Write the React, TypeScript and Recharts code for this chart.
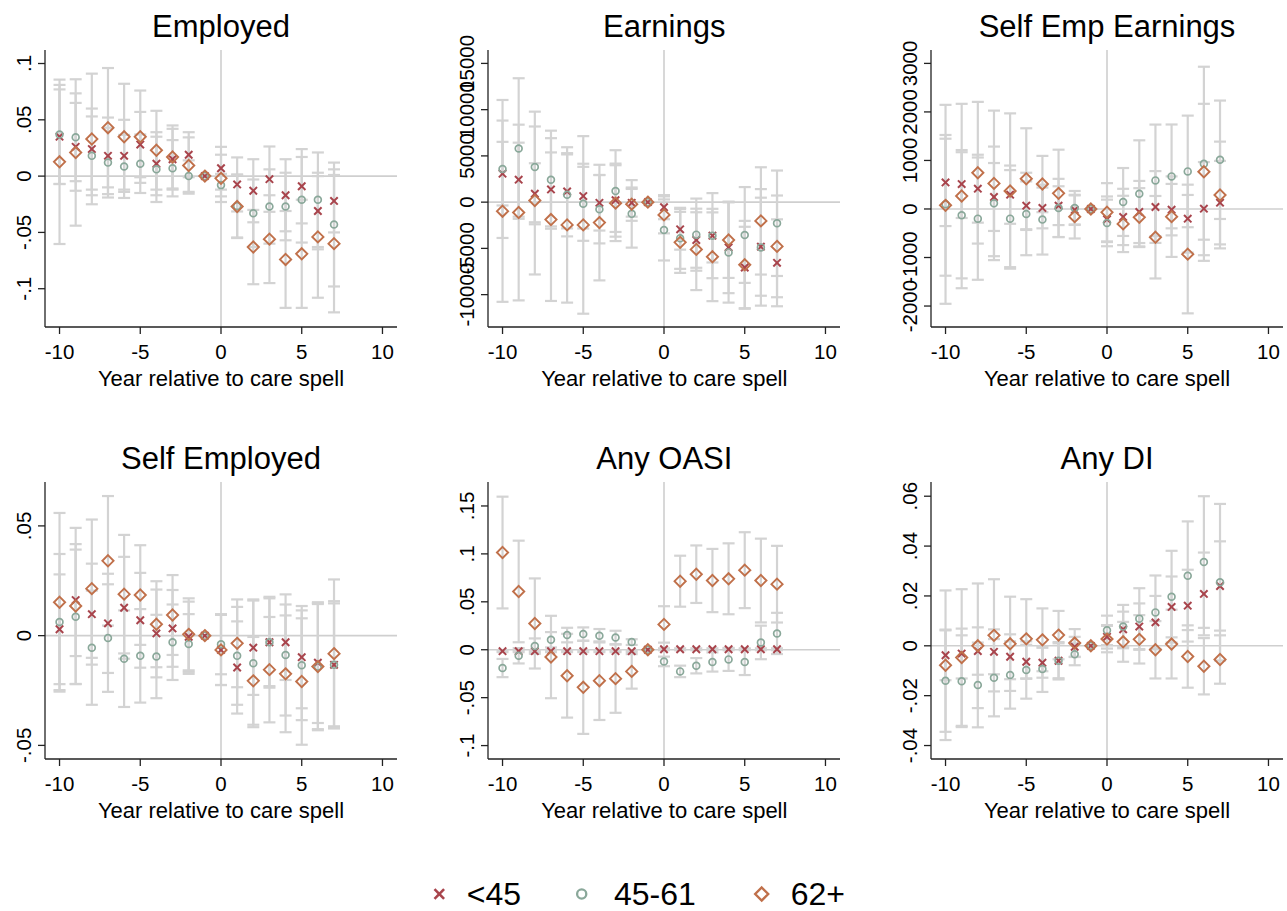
import { ScatterChart, Scatter, XAxis, YAxis, ErrorBar, ReferenceLine } from 'recharts';

const FONT = '"Liberation Sans", Arial, Helvetica, sans-serif';
const RED = '#a8444c';
const GREEN = '#8aa89a';
const ORANGE = '#c0704a';
const BAR = '#d3d3d3';
const REF = '#cfcfcf';

// event time, shared by every panel
const years = [-10, -9, -8, -7, -6, -5, -4, -3, -2, -1, 0, 1, 2, 3, 4, 5, 6, 7];
const xTicks = [-10, -5, 0, 5, 10];
const seriesNames = ['<45', '45-61', '62+'];

// Employed
const empU45 = [0.035, 0.026, 0.024, 0.018, 0.018, 0.028, 0.011, 0.015, 0.019, 0, 0.007, -0.0074, -0.013, -0.0027, -0.017, -0.009, -0.031, -0.022];
const empU45Ci = [0.042, 0.039, 0.036, 0.034, 0.032, 0.029, 0.028, 0.027, 0.02, 0, 0.019, 0.024, 0.028, 0.029, 0.032, 0.033, 0.034, 0.028];
const emp4561 = [0.037, 0.0345, 0.018, 0.012, 0.0086, 0.011, 0.006, 0.007, 0, 0, -0.008, -0.0265, -0.033, -0.027, -0.027, -0.021, -0.021, -0.043];
const emp4561Ci = [0.044, 0.039, 0.035, 0.031, 0.028, 0.026, 0.029, 0.025, 0.014, 0, 0.01, 0.028, 0.03, 0.033, 0.03, 0.038, 0.042, 0.055];
const emp62 = [0.0127, 0.021, 0.033, 0.043, 0.035, 0.035, 0.023, 0.017, 0.0094, 0, -0.002, -0.027, -0.063, -0.056, -0.074, -0.069, -0.054, -0.06];
const emp62Ci = [0.073, 0.065, 0.058, 0.053, 0.047, 0.041, 0.035, 0.028, 0.025, 0, 0.021, 0.028, 0.033, 0.039, 0.043, 0.048, 0.054, 0.061];

// Earnings
const earnU45 = [3080, 2430, 906, 1377, 1160, 652, -72, 217, -72, 0, -543, -2935, -4094, -3623, -4891, -7065, -4819, -6558];
const earnU45Ci = [3440, 4000, 3300, 4000, 4000, 3500, 3000, 3950, 1500, 0, 1300, 2200, 3000, 2900, 4950, 4400, 5300, 4700];
const earn4561 = [3587, 5797, 3804, 2428, 797, -181, -761, 1196, -1268, 0, -3007, -3913, -3514, -3623, -5435, -3550, -4891, -2283];
const earn4561Ci = [7460, 7600, 5980, 5300, 4500, 4000, 3700, 4420, 3650, 0, 3300, 3300, 3900, 4600, 5430, 5180, 6300, 5700];
const earn62 = [-978, -1123, 181, -1884, -2464, -2464, -2210, -109, -217, 0, -1377, -4348, -5109, -5906, -4094, -6775, -2029, -4783];
const earn62Ci = [9800, 9500, 8000, 8800, 8400, 9600, 6250, 4100, 1800, 0, 2000, 3300, 4400, 4800, 4100, 4750, 5800, 5500];

// Self Emp Earnings
const seeU45 = [548, 514, 418, 247, 295, 68, 21, 68, -20, 0, -212, -164, -62, 41, -14, -199, 7, 130];
const seeU45Ci = [900, 700, 700, 700, 600, 500, 420, 400, 300, 0, 470, 580, 640, 740, 530, 700, 960, 860];
const see4561 = [96, -130, -199, 116, -199, -103, -219, 21, 21, 0, -288, 144, 315, 589, 671, 774, 931, 1014];
const see4561Ci = [2050, 1300, 1260, 1170, 1000, 850, 720, 600, 350, 0, 480, 700, 1100, 1150, 1070, 1150, 2000, 1220];
const see62 = [75, 267, 747, 527, 370, 623, 514, 322, -158, 0, -68, -308, -171, -582, -158, -931, 767, 288];
const see62Ci = [1450, 1900, 1460, 1500, 1600, 1040, 580, 900, 450, 0, 600, 580, 600, 850, 830, 1220, 1400, 1100];

// Self Employed
const seU45 = [0.0029, 0.0162, 0.0098, 0.0056, 0.0127, 0.007, 0.001, 0.0033, -0.0005, 0, -0.0065, -0.0145, -0.0055, -0.003, -0.003, -0.0098, -0.0123, -0.0133];
const seU45Ci = [0.025, 0.0255, 0.023, 0.0226, 0.0232, 0.0216, 0.02, 0.0175, 0.016, 0, 0.016, 0.021, 0.0215, 0.02, 0.0172, 0.0233, 0.0275, 0.028];
const se4561 = [0.0062, 0.0086, -0.0055, -0.0011, -0.0105, -0.0092, -0.0095, -0.003, -0.0038, 0, -0.0039, -0.0092, -0.0126, -0.003, -0.0088, -0.0135, -0.0141, -0.0133];
const se4561Ci = [0.031, 0.0306, 0.026, 0.0245, 0.022, 0.0213, 0.019, 0.0172, 0.0136, 0, 0.0137, 0.0223, 0.0291, 0.0207, 0.0276, 0.025, 0.0285, 0.029];
const se62 = [0.0152, 0.0135, 0.0214, 0.0341, 0.0189, 0.0185, 0.0052, 0.0094, 0.0006, 0, -0.0065, -0.0035, -0.0206, -0.0155, -0.0174, -0.0209, -0.0141, -0.0082];
const se62Ci = [0.0407, 0.0356, 0.0315, 0.0295, 0.027, 0.0227, 0.0196, 0.0182, 0.0164, 0, 0.016, 0.02, 0.02, 0.024, 0.0266, 0.0288, 0.029, 0.0338];

// Any OASI
const oaU45 = [-0.0015, -0.0015, -0.0015, -0.0015, -0.0015, -0.0015, -0.0015, -0.0015, -0.0015, 0, 0.0005, 0.0005, 0.0005, 0.0005, 0.0005, 0.0005, 0.0005, 0.0005];
const oaU45Ci = [0.001, 0.001, 0.001, 0.001, 0.001, 0.001, 0.001, 0.001, 0.001, 0, 0.001, 0.001, 0.001, 0.001, 0.001, 0.001, 0.001, 0.001];
const oa4561 = [-0.0191, -0.0063, 0.0038, 0.0104, 0.0153, 0.0163, 0.0146, 0.0128, 0.008, 0, -0.0122, -0.0226, -0.0167, -0.0128, -0.0101, -0.0128, 0.0076, 0.017];
const oa4561Ci = [0.0095, 0.008, 0.008, 0.008, 0.0076, 0.007, 0.007, 0.007, 0.003, 0, 0.005, 0.006, 0.008, 0.01, 0.012, 0.0136, 0.0175, 0.0215];
const oa62 = [0.1014, 0.0608, 0.0274, -0.0076, -0.0271, -0.0392, -0.0323, -0.0302, -0.0226, 0, 0.0264, 0.0715, 0.0788, 0.0722, 0.074, 0.083, 0.0722, 0.0684];
const oa62Ci = [0.0583, 0.053, 0.047, 0.043, 0.0437, 0.0486, 0.041, 0.0356, 0.018, 0, 0.019, 0.0266, 0.03, 0.033, 0.037, 0.0396, 0.0437, 0.04];

// Any DI
const diU45 = [-0.0038, -0.0031, -0.0021, -0.0024, -0.0044, -0.0064, -0.0068, -0.006, -0.0004, 0, 0.0036, 0.0066, 0.0077, 0.0094, 0.0156, 0.0161, 0.0208, 0.024];
const diU45Ci = [0.01, 0.01, 0.0095, 0.009, 0.009, 0.0068, 0.006, 0.007, 0.004, 0, 0.0047, 0.0071, 0.0093, 0.0106, 0.0122, 0.0144, 0.0166, 0.0179];
const di4561 = [-0.014, -0.0142, -0.0157, -0.0128, -0.0117, -0.0097, -0.0093, -0.006, -0.0034, 0, 0.0062, 0.0077, 0.0109, 0.0134, 0.0197, 0.0281, 0.0336, 0.0255];
const di4561Ci = [0.0205, 0.0184, 0.017, 0.0155, 0.0135, 0.0115, 0.0092, 0.0075, 0.0044, 0, 0.0059, 0.0087, 0.0122, 0.0148, 0.0184, 0.0218, 0.0264, 0.0314];
const di62 = [-0.0078, -0.0047, 0, 0.0042, 0.0008, 0.0028, 0.0024, 0.0043, 0.0011, 0, 0.0027, 0.0016, 0.0026, -0.0016, 0.0007, -0.0043, -0.0082, -0.0055];
const di62Ci = [0.03, 0.0274, 0.025, 0.0225, 0.0189, 0.0159, 0.0126, 0.0097, 0.0056, 0, 0.0053, 0.008, 0.0097, 0.0115, 0.0138, 0.0125, 0.0113, 0.0097];

// y axis ticks per panel
const empTicks = [-0.1, -0.05, 0, 0.05, 0.1];
const earnTicks = [-10000, -5000, 0, 5000, 10000, 15000];
const seeTicks = [-2000, -1000, 0, 1000, 2000, 3000];
const seTicks = [-0.05, 0, 0.05];
const oaTicks = [-0.1, -0.05, 0, 0.05, 0.1, 0.15];
const diTicks = [-0.04, -0.02, 0, 0.02, 0.04, 0.06];

const toRows = (vals: number[], ci: number[]) => years.map((x, i) => ({ x, y: vals[i], err: ci[i] }));

// stata style: .05 instead of 0.05
const fmt = (v: number) => (v === 0 ? '0' : String(v).replace(/^(-?)0\./, '$1.'));

const Cross = ({ cx, cy, s = 3.7, w = 2 }: any) => (
  <g stroke={RED} strokeWidth={w} strokeLinecap="butt">
    <line x1={cx - s} y1={cy - s} x2={cx + s} y2={cy + s} />
    <line x1={cx - s} y1={cy + s} x2={cx + s} y2={cy - s} />
  </g>
);
const Ring = ({ cx, cy, s = 3.4, w = 1.7 }: any) => (
  <circle cx={cx} cy={cy} r={s} fill="none" stroke={GREEN} strokeWidth={w} />
);
const Diamond = ({ cx, cy, s = 5.6, w = 1.9 }: any) => (
  <polygon
    points={`${cx},${cy - s} ${cx + s},${cy} ${cx},${cy + s} ${cx - s},${cy}`}
    fill="none"
    stroke={ORANGE}
    strokeWidth={w}
  />
);
const shapes = [Cross, Ring, Diamond];

const YearTick = ({ x, y, payload }: any) => (
  <text x={x} y={y + 25} textAnchor="middle" fontSize={20.5} fontFamily={FONT} fill="#000">
    {payload.value}
  </text>
);
const ValueTick = ({ x, y, payload }: any) => (
  <text
    transform={`translate(${x - 6.7},${y}) rotate(-90)`}
    textAnchor="middle"
    fontSize={20.5}
    fontFamily={FONT}
    fill="#000"
  >
    {fmt(payload.value)}
  </text>
);

const colLeft = [45, 488.3, 931];
const rowTop = [50, 482];
const titleBase = [36.7, 468.7];
const labelBase = [385.7, 817.7];

const panels = [
  { title: 'Employed', col: 0, row: 0, domain: [-0.134, 0.112], ticks: empTicks, series: [[empU45, empU45Ci], [emp4561, emp4561Ci], [emp62, emp62Ci]] },
  { title: 'Earnings', col: 1, row: 0, domain: [-13500, 16450], ticks: earnTicks, series: [[earnU45, earnU45Ci], [earn4561, earn4561Ci], [earn62, earn62Ci]] },
  { title: 'Self Emp Earnings', col: 2, row: 0, domain: [-2432, 3276], ticks: seeTicks, series: [[seeU45, seeU45Ci], [see4561, see4561Ci], [see62, see62Ci]] },
  { title: 'Self Employed', col: 0, row: 1, domain: [-0.0562, 0.07], ticks: seTicks, series: [[seU45, seU45Ci], [se4561, se4561Ci], [se62, se62Ci]] },
  { title: 'Any OASI', col: 1, row: 1, domain: [-0.114, 0.175], ticks: oaTicks, series: [[oaU45, oaU45Ci], [oa4561, oa4561Ci], [oa62, oa62Ci]] },
  { title: 'Any DI', col: 2, row: 1, domain: [-0.0454, 0.0657], ticks: diTicks, series: [[diU45, diU45Ci], [di4561, di4561Ci], [di62, di62Ci]] },
];

const PLOT_W = 352;
const PLOT_H = 277;
const Y_W = 45;
const X_H = 40;
const TOP_PAD = 45;

function Panel({ p }: any) {
  const rows = p.series.map((s: number[][]) => toRows(s[0], s[1]));
  return (
    <div
      style={{
        position: 'absolute',
        left: colLeft[p.col] - Y_W,
        top: rowTop[p.row] - TOP_PAD,
      }}
    >
      <ScatterChart
        width={Y_W + PLOT_W + 3}
        height={TOP_PAD + PLOT_H + X_H}
        margin={{ top: TOP_PAD, right: 3, bottom: 0, left: 0 }}
        style={{ overflow: 'visible' }}
      >
        <XAxis
          type="number"
          dataKey="x"
          domain={[-10.9, 10.9]}
          ticks={xTicks}
          interval={0}
          allowDataOverflow
          height={X_H}
          tickSize={7}
          tickMargin={0}
          stroke="#222"
          strokeWidth={1.3}
          tick={<YearTick />}
        />
        <YAxis
          type="number"
          dataKey="y"
          domain={p.domain}
          ticks={p.ticks}
          interval={0}
          allowDataOverflow
          width={Y_W}
          tickSize={7}
          tickMargin={0}
          stroke="#222"
          strokeWidth={1.3}
          tick={<ValueTick />}
        />
        <ReferenceLine y={0} stroke={REF} strokeWidth={1.6} />
        <ReferenceLine x={0} stroke={REF} strokeWidth={1.6} />
        {rows.map((data: any, i: number) => (
          <Scatter key={'ci' + i} data={data} isAnimationActive={false} shape={() => <g />}>
            <ErrorBar dataKey="err" direction="y" width={6} stroke={BAR} strokeWidth={2.2} isAnimationActive={false} />
          </Scatter>
        ))}
        {rows.map((data: any, i: number) => {
          const Shape = shapes[i];
          return (
            <Scatter
              key={'pt' + i}
              name={seriesNames[i]}
              data={data}
              isAnimationActive={false}
              shape={(props: any) => <Shape cx={props.cx} cy={props.cy} />}
            />
          );
        })}
      </ScatterChart>
    </div>
  );
}

const legendX = [439.3, 581.7, 761.7];
const legendTextX = [466.7, 614, 790.7];

export default function App() {
  return (
    <div style={{ position: 'absolute', left: 0, top: 0, width: 1287, height: 911, background: '#fff' }}>
      {panels.map((p) => (
        <Panel key={p.title} p={p} />
      ))}
      <svg width={1287} height={911} style={{ position: 'absolute', left: 0, top: 0, pointerEvents: 'none' }}>
        {panels.map((p) => (
          <g key={p.title} fontFamily={FONT} fill="#000">
            <text x={colLeft[p.col] + PLOT_W / 2} y={titleBase[p.row]} textAnchor="middle" fontSize={31}>
              {p.title}
            </text>
            <text x={colLeft[p.col] + PLOT_W / 2} y={labelBase[p.row]} textAnchor="middle" fontSize={22}>
              Year relative to care spell
            </text>
          </g>
        ))}
        <Cross cx={legendX[0]} cy={894} s={4.8} w={2.6} />
        <Ring cx={legendX[1]} cy={894} s={4.6} w={2.3} />
        <Diamond cx={legendX[2]} cy={894} s={6.5} w={2.4} />
        {seriesNames.map((n, i) => (
          <text key={n} x={legendTextX[i]} y={905} fontSize={32} fontFamily={FONT} fill="#000">
            {n}
          </text>
        ))}
      </svg>
    </div>
  );
}
